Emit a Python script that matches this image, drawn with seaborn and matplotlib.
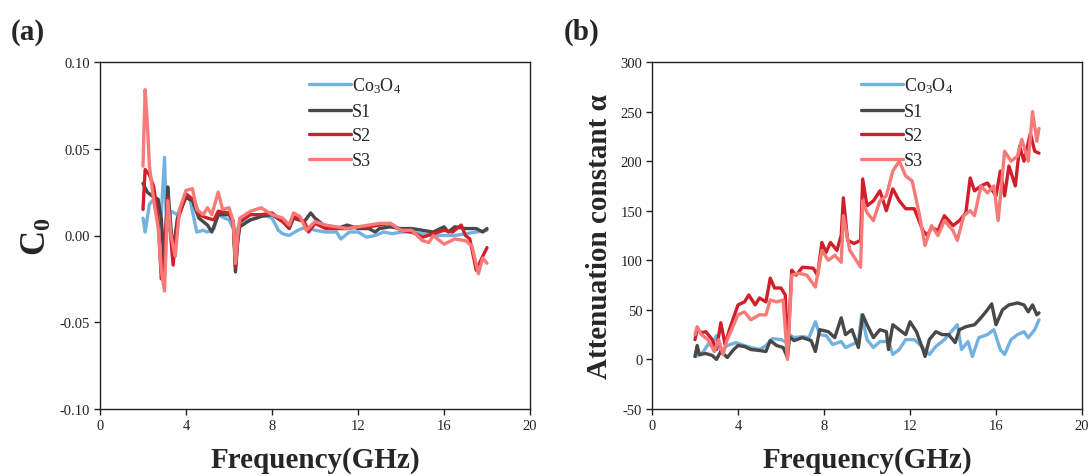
import numpy as np
import pandas as pd
import matplotlib
matplotlib.use("Agg")
import matplotlib.pyplot as plt
import seaborn as sns

# ---------------- data : panel (a) C0 ----------------
co_f_a = [2.0, 2.1, 2.3, 2.5, 2.7, 2.85, 3.0, 3.1, 3.3, 3.6, 4.0, 4.2, 4.5, 4.8, 5.0, 5.3, 5.5, 5.8, 6.0, 6.2, 6.3, 6.4, 6.6, 7.0, 7.3, 7.6, 8.0, 8.3, 8.5, 8.8, 9.2, 9.6, 10.0, 10.5, 11.0, 11.2, 11.6, 12.0, 12.4, 12.8, 13.2, 13.6, 14.0, 14.4, 15.0, 15.5, 16.0, 16.5, 17.0, 17.5, 18.0]
co_c0 = [0.010, 0.002, 0.018, 0.021, 0.016, 0.012, 0.045, 0.002, 0.014, 0.012, 0.023, 0.020, 0.002, 0.003, 0.002, 0.004, 0.012, 0.010, 0.009, 0.004, -0.014, 0.004, 0.008, 0.009, 0.010, 0.012, 0.010, 0.003, 0.001, 0.000, 0.003, 0.005, 0.003, 0.002, 0.002, -0.002, 0.002, 0.002, -0.001, 0.000, 0.002, 0.001, 0.002, 0.002, 0.001, 0.000, 0.000, 0.000, 0.001, 0.002, 0.003]

s1_f_a = [2.0, 2.2, 2.5, 2.7, 2.85, 3.0, 3.15, 3.25, 3.4, 3.6, 4.0, 4.3, 4.6, 5.0, 5.2, 5.5, 6.0, 6.2, 6.3, 6.4, 6.5, 7.0, 7.5, 8.0, 8.5, 8.8, 9.0, 9.5, 9.8, 10.0, 10.5, 11.0, 11.5, 12.0, 12.5, 12.8, 13.0, 13.5, 14.0, 14.5, 15.0, 15.5, 16.0, 16.2, 16.5, 17.0, 17.5, 17.8, 18.0]
s1_c0 = [0.030, 0.025, 0.022, 0.021, 0.010, -0.018, 0.028, 0.012, -0.010, 0.010, 0.022, 0.020, 0.010, 0.006, 0.002, 0.012, 0.012, 0.008, -0.021, -0.004, 0.005, 0.009, 0.011, 0.012, 0.008, 0.004, 0.010, 0.008, 0.013, 0.010, 0.005, 0.004, 0.006, 0.004, 0.004, 0.002, 0.004, 0.005, 0.004, 0.004, 0.003, 0.002, 0.005, 0.002, 0.005, 0.004, 0.004, 0.002, 0.004]

s2_f_a = [2.0, 2.1, 2.3, 2.5, 2.7, 2.85, 3.0, 3.15, 3.25, 3.4, 3.6, 4.0, 4.4, 4.6, 5.0, 5.3, 5.5, 6.0, 6.2, 6.3, 6.4, 6.5, 7.0, 7.5, 8.0, 8.5, 8.8, 9.0, 9.5, 9.7, 10.0, 10.5, 11.0, 11.5, 12.0, 12.5, 13.0, 13.5, 14.0, 14.5, 15.0, 15.5, 16.0, 16.4, 16.8, 17.0, 17.2, 17.5, 17.8, 18.0]
s2_c0 = [0.015, 0.038, 0.035, 0.028, 0.010, -0.025, -0.010, 0.022, 0.005, -0.017, 0.008, 0.024, 0.020, 0.012, 0.010, 0.009, 0.014, 0.013, 0.008, -0.018, -0.004, 0.008, 0.012, 0.012, 0.013, 0.008, 0.005, 0.011, 0.008, 0.002, 0.007, 0.004, 0.004, 0.004, 0.005, 0.005, 0.006, 0.007, 0.003, 0.002, -0.001, 0.001, 0.003, 0.002, 0.006, 0.000, -0.002, -0.020, -0.012, -0.007]

s3_f_a = [2.0, 2.1, 2.2, 2.3, 2.5, 2.7, 2.85, 3.0, 3.15, 3.3, 3.5, 3.7, 4.0, 4.3, 4.5, 4.8, 5.0, 5.2, 5.5, 5.7, 6.0, 6.2, 6.3, 6.4, 6.5, 7.0, 7.5, 8.0, 8.5, 8.8, 9.0, 9.3, 9.6, 10.0, 10.5, 11.0, 11.5, 12.0, 12.5, 13.0, 13.5, 14.0, 14.5, 15.0, 15.3, 15.5, 16.0, 16.5, 17.0, 17.3, 17.6, 17.8, 18.0]
s3_c0 = [0.040, 0.084, 0.065, 0.040, 0.020, 0.005, -0.020, -0.032, 0.020, 0.000, -0.012, 0.015, 0.026, 0.027, 0.015, 0.012, 0.016, 0.012, 0.025, 0.015, 0.016, 0.008, -0.016, 0.000, 0.010, 0.014, 0.016, 0.012, 0.010, 0.006, 0.013, 0.011, 0.003, 0.008, 0.006, 0.005, 0.004, 0.005, 0.006, 0.007, 0.007, 0.003, 0.003, -0.003, -0.004, 0.000, -0.005, -0.002, -0.003, -0.006, -0.022, -0.013, -0.016]

# ---------------- data : panel (b) attenuation constant ----------------
co_f_b = [2.0, 2.3, 2.6, 2.8, 3.0, 3.2, 3.5, 3.9, 4.3, 4.6, 5.0, 5.3, 5.6, 6.0, 6.3, 6.4, 6.6, 7.0, 7.3, 7.6, 7.8, 8.1, 8.4, 8.8, 9.0, 9.3, 9.6, 9.75, 10.0, 10.3, 10.6, 11.0, 11.2, 11.5, 11.8, 12.2, 12.6, 12.9, 13.2, 13.6, 14.0, 14.2, 14.4, 14.7, 14.9, 15.2, 15.6, 15.9, 16.2, 16.4, 16.7, 17.0, 17.3, 17.5, 17.8, 18.0]
co_alpha = [3, 5, 15, 15, 24, 8, 14, 17, 14, 12, 10, 14, 21, 20, 17, 25, 22, 23, 22, 38, 25, 24, 15, 18, 12, 15, 18, 45, 20, 12, 18, 18, 5, 10, 20, 20, 12, 5, 13, 20, 30, 35, 10, 18, 3, 22, 25, 30, 10, 5, 20, 25, 28, 22, 30, 40]

s1_f_b = [2.0, 2.1, 2.2, 2.5, 2.8, 3.0, 3.2, 3.5, 3.8, 4.0, 4.3, 4.6, 5.0, 5.3, 5.5, 5.8, 6.1, 6.3, 6.4, 6.6, 7.0, 7.4, 7.6, 7.8, 8.2, 8.5, 8.8, 9.0, 9.3, 9.6, 9.8, 10.0, 10.3, 10.6, 10.9, 11.0, 11.2, 11.5, 11.8, 12.0, 12.3, 12.6, 12.7, 12.9, 13.2, 13.5, 13.8, 14.1, 14.3, 14.6, 15.0, 15.3, 15.6, 15.8, 16.0, 16.3, 16.6, 17.0, 17.3, 17.5, 17.7, 17.9, 18.0]
s1_alpha = [3, 14, 5, 6, 4, 0, 8, 2, 10, 14, 13, 10, 9, 8, 19, 14, 12, 2, 23, 19, 22, 19, 8, 30, 28, 22, 42, 25, 30, 12, 45, 35, 22, 30, 28, 10, 35, 30, 25, 38, 28, 10, 3, 20, 28, 25, 25, 17, 30, 33, 35, 42, 50, 56, 35, 50, 55, 57, 55, 48, 55, 45, 47]

s2_f_b = [2.0, 2.1, 2.3, 2.5, 2.8, 3.0, 3.2, 3.4, 3.6, 4.0, 4.3, 4.5, 4.8, 5.0, 5.3, 5.5, 5.7, 6.0, 6.2, 6.3, 6.5, 6.7, 7.0, 7.5, 7.7, 7.9, 8.1, 8.3, 8.6, 8.8, 8.9, 9.1, 9.4, 9.7, 9.8, 10.0, 10.3, 10.6, 10.9, 11.2, 11.5, 11.8, 12.2, 12.6, 12.8, 13.0, 13.3, 13.6, 14.0, 14.3, 14.6, 14.8, 15.0, 15.3, 15.6, 16.0, 16.2, 16.4, 16.6, 16.9, 17.1, 17.3, 17.6, 17.8, 18.0]
s2_alpha = [20, 30, 27, 28, 20, 10, 37, 15, 30, 55, 58, 65, 55, 62, 58, 82, 72, 72, 65, 5, 90, 85, 93, 92, 85, 118, 108, 118, 110, 125, 163, 120, 117, 120, 182, 155, 160, 170, 150, 172, 160, 152, 152, 130, 125, 133, 130, 145, 135, 140, 148, 183, 170, 175, 178, 165, 190, 165, 195, 175, 215, 200, 228, 210, 208]

s3_f_b = [2.0, 2.1, 2.3, 2.6, 2.9, 3.1, 3.3, 3.5, 4.0, 4.3, 4.6, 5.0, 5.3, 5.5, 5.8, 6.1, 6.3, 6.5, 6.8, 7.2, 7.6, 7.9, 8.2, 8.5, 8.8, 8.9, 9.2, 9.5, 9.7, 9.8, 10.0, 10.3, 10.6, 10.9, 11.2, 11.5, 11.8, 12.1, 12.4, 12.7, 13.0, 13.3, 13.6, 14.0, 14.2, 14.5, 14.8, 15.0, 15.3, 15.6, 15.9, 16.1, 16.4, 16.7, 17.0, 17.2, 17.5, 17.7, 17.9, 18.0]
s3_alpha = [25, 33, 25, 20, 8, 20, 5, 20, 45, 48, 40, 45, 45, 60, 58, 60, 0, 85, 87, 85, 73, 110, 100, 105, 98, 145, 110, 100, 93, 160, 148, 140, 160, 165, 190, 200, 185, 180, 150, 115, 135, 125, 140, 130, 120, 145, 150, 145, 175, 168, 175, 140, 210, 200, 205, 222, 200, 250, 220, 233]

labels = ["Co$_3$O$_4$", "S1", "S2", "S3"]
colors = ["#72b2e0", "#484848", "#d21e2a", "#f77a78"]

xticks = [0, 4, 8, 12, 16, 20]
yticks_a = [-0.10, -0.05, 0.00, 0.05, 0.10]
yticks_b = [-50, 0, 50, 100, 150, 200, 250, 300]


def long_df(fs, vs):
    rows = []
    for lab, f, v in zip(labels, fs, vs):
        rows.append(pd.DataFrame({"f": f, "v": v, "s": lab}))
    return pd.concat(rows, ignore_index=True)


df_a = long_df([co_f_a, s1_f_a, s2_f_a, s3_f_a], [co_c0, s1_c0, s2_c0, s3_c0])
df_b = long_df([co_f_b, s1_f_b, s2_f_b, s3_f_b], [co_alpha, s1_alpha, s2_alpha, s3_alpha])

sns.set_theme(style="ticks")
plt.rcParams["font.family"] = ["Liberation Serif", "DejaVu Serif"]
plt.rcParams["mathtext.fontset"] = "custom"
plt.rcParams["mathtext.rm"] = "Liberation Serif"
plt.rcParams["mathtext.it"] = "Liberation Serif:italic"
plt.rcParams["mathtext.bf"] = "Liberation Serif:bold"
plt.rcParams["axes.unicode_minus"] = False

W, H = 1090, 477
fig = plt.figure(figsize=(W / 100, H / 100), dpi=100)
ax_a = fig.add_axes([100 / W, (H - 410) / H, 430 / W, 347 / H])
ax_b = fig.add_axes([652 / W, (H - 410) / H, 430 / W, 347 / H])

palette = dict(zip(labels, colors))

for ax, df in ((ax_a, df_a), (ax_b, df_b)):
    sns.lineplot(data=df, x="f", y="v", hue="s", palette=palette, estimator=None,
                 sort=False, linewidth=2.4, ax=ax)
    ax.set_xlim(0, 20)
    ax.set_xticks(xticks)
    ax.tick_params(axis="both", direction="out", length=4, width=1, labelsize=10.5,
                   colors="#222222", pad=3)
    for sp in ax.spines.values():
        sp.set_linewidth(1.0)
        sp.set_color("#222222")
    ax.set_xlabel("Frequency(GHz)", fontsize=21, fontweight="bold", labelpad=10)
    leg = ax.legend(loc="upper left", bbox_to_anchor=(0.455, 1.0), frameon=False,
                    fontsize=13, handlelength=2.3, handletextpad=0.05,
                    labelspacing=0.42, borderaxespad=0.35)
    for line in leg.get_lines():
        line.set_linewidth(2.4)

ax_a.set_ylim(-0.10, 0.10)
ax_a.set_yticks(yticks_a)
ax_a.set_yticklabels(["%.2f" % t for t in yticks_a])
ax_a.set_ylabel("C$_\\mathbf{0}$", fontsize=25, fontweight="bold", labelpad=4)

ax_b.set_ylim(-50, 300)
ax_b.set_yticks(yticks_b)
ax_b.set_ylabel("Attenuation constant α", fontsize=21, fontweight="bold", labelpad=5)

fig.text(11 / W, 1 - 40 / H, "(a)", fontsize=21, fontweight="bold")
fig.text(564 / W, 1 - 40 / H, "(b)", fontsize=21, fontweight="bold")

fig.savefig("out.png", dpi=100)
